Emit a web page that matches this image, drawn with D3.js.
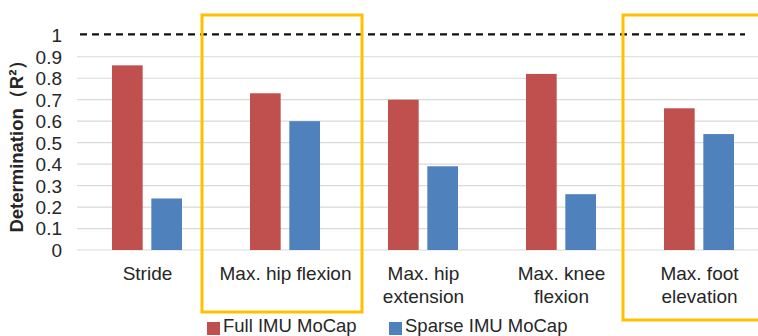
<!DOCTYPE html>
<html><head><meta charset="utf-8">
<script src="https://cdn.jsdelivr.net/npm/d3@7"></script>
<style>html,body{margin:0;padding:0;background:#fff;overflow:hidden}svg{display:block}</style>
</head><body>
<svg id="chart" width="758" height="336"></svg>
<script>
const categories = ["Stride", "Max. hip flexion", "Max. hip extension", "Max. knee flexion", "Max. foot elevation"];
const categoryLines = [["Stride"], ["Max. hip flexion"], ["Max. hip", "extension"], ["Max. knee", "flexion"], ["Max. foot", "elevation"]];
const seriesNames = ["Full IMU MoCap", "Sparse IMU MoCap"];
const fullValues = [0.86, 0.73, 0.70, 0.82, 0.66];
const sparseValues = [0.24, 0.60, 0.39, 0.26, 0.54];
const yTicks = [0, 0.1, 0.2, 0.3, 0.4, 0.5, 0.6, 0.7, 0.8, 0.9, 1];
const yTickLabels = ["0", "0.1", "0.2", "0.3", "0.4", "0.5", "0.6", "0.7", "0.8", "0.9", "1"];
const referenceValue = 1;
const highlighted = ["Max. hip flexion", "Max. foot elevation"];
const colors = ["#C0504D", "#4F81BD"];

const svg = d3.select("#chart");
const font = "'Liberation Sans', Arial, sans-serif";
const textColor = "#262626";

const x0 = d3.scaleBand().domain(categories).range([78, 768]).padding(0);
const x1 = d3.scaleBand().domain(seriesNames).range([34, 104]).paddingInner(0.22);
const y = d3.scaleLinear().domain([0, 1]).range([250, 35.3]);

// gridlines
svg.append("g").selectAll("line").data(yTicks.filter(t => t < 1)).join("line")
  .attr("x1", 77).attr("x2", 758)
  .attr("y1", d => y(d)).attr("y2", d => y(d))
  .attr("stroke", "#d9d9d9").attr("stroke-width", 1.2);

// y axis labels
const yAxis = d3.axisLeft(y).tickValues(yTicks).tickFormat((d, i) => yTickLabels[i]).tickSize(0).tickPadding(0);
const ga = svg.append("g").attr("transform", "translate(62,0)").call(yAxis);
ga.select(".domain").remove();
ga.selectAll("text").attr("font-family", font).attr("font-size", 19).attr("fill", textColor).attr("dy", "0.34em");

// bars
const data = categories.map((c, i) => ({cat: c, vals: [fullValues[i], sparseValues[i]]}));
const groups = svg.append("g").selectAll("g").data(data).join("g")
  .attr("transform", d => `translate(${x0(d.cat)},0)`);
groups.selectAll("rect").data(d => d.vals.map((v, j) => ({s: seriesNames[j], v, j}))).join("rect")
  .attr("x", d => x1(d.s)).attr("width", x1.bandwidth())
  .attr("y", d => y(d.v)).attr("height", d => y(0) - y(d.v))
  .attr("fill", d => colors[d.j]);

// reference dashed line
svg.append("line").attr("x1", 80).attr("x2", 745)
  .attr("y1", y(referenceValue) - 1).attr("y2", y(referenceValue) - 1)
  .attr("stroke", "#111").attr("stroke-width", 2.2).attr("stroke-dasharray", "7,5");

// category labels
const lab = svg.append("g").selectAll("text").data(categories).join("text")
  .attr("x", d => x0(d) + x0.bandwidth() / 2 + 0.5)
  .attr("y", 279.5)
  .attr("text-anchor", "middle")
  .attr("font-family", font).attr("font-size", 19).attr("fill", textColor);
lab.selectAll("tspan").data((d, i) => categoryLines[i]).join("tspan")
  .attr("x", function() { return d3.select(this.parentNode).attr("x"); })
  .attr("dy", (d, i) => i === 0 ? 0 : 23)
  .text(d => d);

// y title
svg.append("text")
  .attr("transform", `translate(23,${(y(0) + y(1)) / 2 - 1}) rotate(-90)`)
  .attr("text-anchor", "middle")
  .attr("font-family", font).attr("font-size", 18.5).attr("font-weight", "bold").attr("fill", textColor)
  .text("Determination（R²）");

// highlight boxes
const boxSpecs = [{cat: highlighted[0], dx: -14, w: 160, bottom: 312}, {cat: highlighted[1], dx: -7, w: 200, bottom: 320}];
svg.append("g").selectAll("rect").data(boxSpecs).join("rect")
  .attr("x", d => x0(d.cat) + d.dx).attr("y", 15)
  .attr("width", d => d.w).attr("height", d => d.bottom - 15)
  .attr("fill", "none").attr("stroke", "#FFC000").attr("stroke-width", 3);

// legend
const legendX = [207, 389];
const lg = svg.append("g").selectAll("g").data(seriesNames).join("g")
  .attr("transform", (d, i) => `translate(${legendX[i]},0)`);
lg.append("rect").attr("x", 0).attr("y", 322).attr("width", 13).attr("height", 13)
  .attr("fill", (d, i) => colors[i]);
lg.append("text").attr("x", 16).attr("y", 331.5)
  .attr("font-family", font).attr("font-size", 18.5).attr("fill", textColor).text(d => d);
</script>
</body></html>
